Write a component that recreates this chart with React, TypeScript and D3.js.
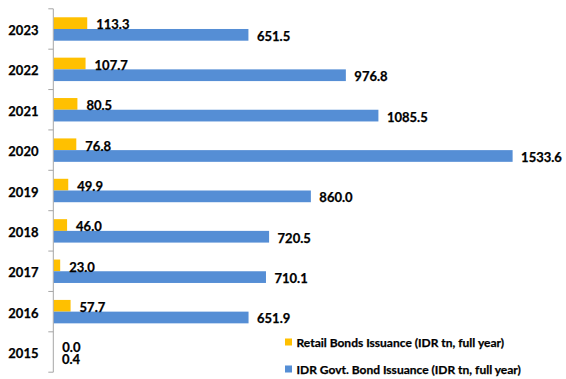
import React from 'react';
import * as d3 from 'd3';

const years = ['2023', '2022', '2021', '2020', '2019', '2018', '2017', '2016', '2015'];
const retail = [113.3, 107.7, 80.5, 76.8, 49.9, 46.0, 23.0, 57.7, 0.0];
const govt = [651.5, 976.8, 1085.5, 1533.6, 860.0, 720.5, 710.1, 651.9, 0.4];
const seriesNames = ['Retail Bonds Issuance (IDR tn, full year)', 'IDR Govt. Bond Issuance (IDR tn, full year)'];
const colors = ['#FFC000', '#558ED5'];

const W = 566, H = 379;
const FONT = 'Lato, "Open Sans", sans-serif';
const textProps = { fontFamily: FONT, fontWeight: 'bold' as const, fill: '#000', stroke: '#000', strokeWidth: 0.25 };

export default function App() {
  const x = d3.scaleLinear().domain([0, 1600]).range([53.3, 53.3 + 0.2995 * 1600]);
  const y = d3.scaleBand<string>().domain(years).range([8.8, 372.2]).paddingInner(0).paddingOuter(0);
  const bw = y.bandwidth();
  const inner = d3.scaleBand<string>().domain(['r', 'g']).range([bw * 0.21, bw * 0.79]).padding(0);
  const ticks = d3.range(years.length + 1).map(i => 8.8 + i * bw);

  return (
    <svg width={W} height={H} style={{ position: 'absolute', left: 0, top: 0, background: '#fff' }}>
      <line x1={x(0)} x2={x(0)} y1={ticks[0]} y2={ticks[ticks.length - 1]} stroke="#A6A6A6" strokeWidth={1} />
      {ticks.map((t, i) => (
        <line key={i} x1={x(0) - 5} x2={x(0)} y1={t} y2={t} stroke="#A6A6A6" strokeWidth={1} />
      ))}
      {years.map((yr, i) => {
        const y0 = y(yr)!;
        return (
          <g key={yr}>
            <text x={38.5} y={y0 + bw / 2 + 1} textAnchor="end" dominantBaseline="central" fontSize={13} {...textProps}>{yr}</text>
            <rect x={x(0) + 0.5} y={y0 + inner('r')!} width={Math.max(0, x(retail[i]) - x(0) - 0.5)} height={inner.bandwidth()} fill={colors[0]} />
            <rect x={x(0) + 0.5} y={y0 + inner('g')!} width={Math.max(0, x(govt[i]) - x(0) - 0.5)} height={inner.bandwidth()} fill={colors[1]} />
            <text x={x(retail[i]) + 9} y={y0 + inner('r')! + inner.bandwidth() / 2 + 1.3} dominantBaseline="central" fontSize={13} {...textProps}>{retail[i].toFixed(1)}</text>
            <text x={x(govt[i]) + 8.5} y={y0 + inner('g')! + inner.bandwidth() / 2 + 1} dominantBaseline="central" fontSize={13} {...textProps}>{govt[i].toFixed(1)}</text>
          </g>
        );
      })}
      {seriesNames.map((s, i) => (
        <g key={s} transform={`translate(285, ${342 + i * 27})`}>
          <rect x={0} y={-3.5} width={7} height={7} fill={colors[i]} />
          <text x={11.5} y={0.5} dominantBaseline="central" fontSize={12} {...textProps}>{s}</text>
        </g>
      ))}
    </svg>
  );
}
